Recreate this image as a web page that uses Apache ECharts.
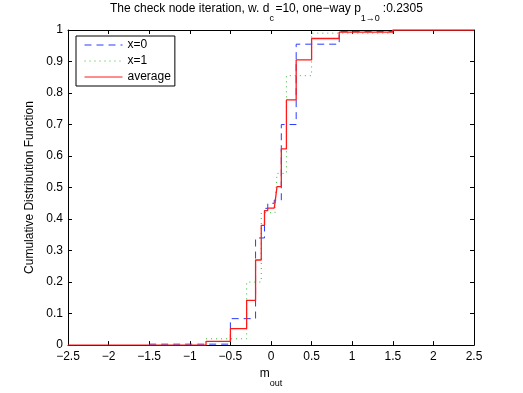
<!DOCTYPE html>
<html><head><meta charset="utf-8">
<script src="https://cdn.jsdelivr.net/npm/echarts@6/dist/echarts.min.js"></script>
<style>html,body{margin:0;padding:0;background:#fff}#c{width:523px;height:393px}</style>
</head><body><div id="c"></div>
<script>
// step CDF data: [x, y] where y holds from x until next x
var xTicks = [-2.5,-2,-1.5,-1,-0.5,0,0.5,1,1.5,2,2.5];
var yTicks = [0,0.1,0.2,0.3,0.4,0.5,0.6,0.7,0.8,0.9,1];
var x0X = [-1.5, -0.5, -0.19, -0.08, -0.04, 0.04, 0.127, 0.31, 0.84, 1.5];
var x0Y = [0.003, 0.084, 0.34, 0.434, 0.45, 0.46, 0.70, 0.955, 0.995, 1];
var x1X = [-0.8, -0.3, -0.12, 0.05, 0.074, 0.19, 0.5, 1.5];
var x1Y = [0.02, 0.2, 0.42, 0.445, 0.545, 0.855, 0.99, 1];
var avgX = [-2.5, -0.8, -0.5, -0.3, -0.19, -0.12, -0.08, -0.04, 0.04, 0.05, 0.074, 0.127, 0.19, 0.31, 0.5, 0.84, 1.5, 2.5];
var avgY = [0, 0.012, 0.052, 0.142, 0.27, 0.38, 0.427, 0.435, 0.44, 0.453, 0.503, 0.623, 0.778, 0.905, 0.973, 0.993, 1, 1];

function pairs(xs, ys){ return xs.map(function(x,i){ return [x, ys[i]]; }); }
var FF = 'Liberation Sans, Arial, Helvetica, sans-serif';
function fmt(v){ var r = Math.round(v*10)/10; return (r<0 ? '\u2212' : '') + String(Math.abs(r)); }

var chart = echarts.init(document.getElementById('c'), null, {renderer:'canvas'});
function ax(extra){
  var base = {
    axisLine:{show:true, onZero:false, lineStyle:{color:'#000', width:1}},
    axisTick:{show:true, inside:true, length:4, lineStyle:{color:'#000'}},
    splitLine:{show:false}
  };
  return Object.assign(base, extra);
}
var subRich = {
  n:{fontFamily:FF, fontSize:12, lineHeight:14, verticalAlign:'top', color:'#000'},
  s:{fontFamily:FF, fontSize:9, lineHeight:20, verticalAlign:'bottom', color:'#000'},
  sc:{fontFamily:FF, fontSize:9, lineHeight:20, verticalAlign:'bottom', color:'#000', width:6, align:'left'},
  sp:{fontFamily:FF, fontSize:9, lineHeight:20, verticalAlign:'bottom', color:'#000', width:22, align:'left'}
};
var BLUE = '#2a3cff', GREEN = '#2dbd2d', RED = '#ff1a1a';
chart.setOption({
  animation:false,
  backgroundColor:'#fff',
  grid:{left:68, right:49, top:30, bottom:44, containLabel:false},
  graphic:[{
    type:'text', x:110, y:3,
    style:{
      text:'{n|The check node iteration, w. d}{sc|c}{n|=10, one\u2212way p}{sp|1\u21920}{n|:0.2305}',
      align:'left', verticalAlign:'top',
      rich:subRich
    }
  }],
  legend:{
    orient:'vertical', left:76, top:36,
    itemWidth:38, itemHeight:14, itemGap:4, padding:[3,4,3,8],
    borderColor:'#000', borderWidth:1, backgroundColor:'#fff', borderRadius:0,
    itemStyle:{opacity:0},
    lineStyle:{width:1},
    textStyle:{fontFamily:FF, fontSize:12, color:'#000'},
    data:['x=0','x=1','average']
  },
  xAxis:[
    ax({type:'value', min:-2.5, max:2.5, interval:0.5, position:'bottom',
      axisLabel:{show:true, color:'#000', fontFamily:FF, fontSize:12, margin:6, formatter:fmt},
      name:'{n|m}{s|out}', nameLocation:'middle', nameGap:20,
      nameTextStyle:{rich:subRich}
    }),
    ax({type:'value', min:-2.5, max:2.5, interval:0.5, position:'top', axisLabel:{show:false}})
  ],
  yAxis:[
    ax({type:'value', min:0, max:1, interval:0.1, position:'left',
      axisLabel:{show:true, color:'#000', fontFamily:FF, fontSize:12, margin:5, formatter:fmt},
      name:'Cumulative Distribution Function', nameLocation:'middle', nameGap:18, nameRotate:90,
      nameTextStyle:{fontFamily:FF, fontSize:12, color:'#000'}
    }),
    ax({type:'value', min:0, max:1, interval:0.1, position:'right', axisLabel:{show:false}})
  ],
  series:[
    {name:'x=0', type:'line', step:'end', symbol:'none', data:pairs(x0X,x0Y),
      lineStyle:{color:BLUE, width:1, type:[7,5]}, itemStyle:{color:BLUE}, z:2},
    {name:'x=1', type:'line', step:'end', symbol:'none', data:pairs(x1X,x1Y),
      lineStyle:{color:GREEN, width:1, type:[1,4]}, itemStyle:{color:GREEN}, z:3},
    {name:'average', type:'line', step:'end', symbol:'none', data:pairs(avgX,avgY),
      lineStyle:{color:RED, width:1.3}, itemStyle:{color:RED}, z:4}
  ]
});
</script></body></html>
